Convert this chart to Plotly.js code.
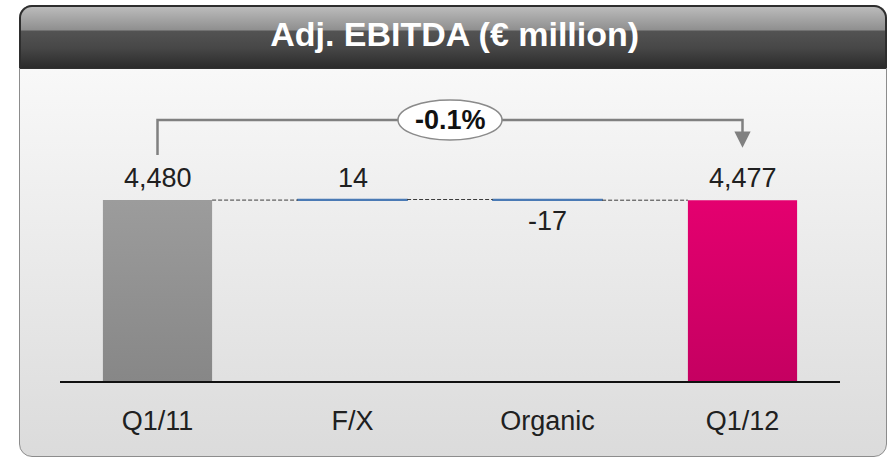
<!DOCTYPE html>
<html>
<head>
<meta charset="utf-8">
<script src="https://cdn.plot.ly/plotly-3.0.1.min.js"></script>
<style>
  html, body { margin:0; padding:0; width:895px; height:458px; overflow:hidden; background:#ffffff; }
  #panel { position:absolute; left:19px; top:5px; width:868px; height:452px; border-radius:13px;
           background:linear-gradient(to bottom, #fdfdfd 0px, #f4f4f4 120px, #e8e8e8 280px, #dbdbdb 452px);
           border:1.5px solid #8c8c8c; box-sizing:border-box; overflow:hidden; }
  #header { position:absolute; left:0; top:0; right:0; height:62px;
            background:linear-gradient(to bottom, #bdbdbd 0px, #a6a6a6 12px, #8f8f8f 24px, #535353 25px, #474747 42px, #2b2b2b 62px);
            border-bottom:1px solid #303030; }
  #panelborder { position:absolute; left:19px; top:5px; width:868px; height:63px; border-radius:13px 13px 0 0;
            border:2px solid #2e2e2e; border-bottom:none; box-sizing:border-box; pointer-events:none; }
  #chart { position:absolute; left:0; top:0; width:895px; height:458px; }
</style>
</head>
<body>
<svg width="0" height="0" style="position:absolute">
  <defs>
    <linearGradient id="gGray" x1="0" y1="0" x2="0" y2="1">
      <stop offset="0" stop-color="#9c9c9c"/>
      <stop offset="1" stop-color="#878787"/>
    </linearGradient>
    <linearGradient id="gMag" x1="0" y1="0" x2="0" y2="1">
      <stop offset="0" stop-color="#e4006f"/>
      <stop offset="1" stop-color="#c50061"/>
    </linearGradient>
  </defs>
</svg>
<div id="panel"><div id="header"></div></div>
<div id="panelborder"></div>
<div id="chart"></div>
<script>
// ---- data ----
const categories = ["Q1/11", "F/X", "Organic", "Q1/12"];
const startValue = 4480;              // Q1/11
const deltas = [14, -17];             // F/X, Organic
const endValue = 4477;                // Q1/12
const changeLabel = "-0.1%";
const valueLabels = ["4,480", "14", "-17", "4,477"];

// ---- derived ----
const bases = [];
let running = startValue;
deltas.forEach(d => { bases.push(running); running += d; });
const tops = [startValue, bases[0] + Math.max(deltas[0],0), bases[1] + Math.max(deltas[1],0), endValue];
const maxVal = Math.max(startValue, endValue);
const yMax = maxVal * 1.73;

const FONT = "'Liberation Sans', Arial, sans-serif";
const BW = 0.56;

const traces = [
  { type:'bar', x:[categories[0]], y:[startValue], width:BW,
    marker:{color:'#929292', line:{width:0}}, hoverinfo:'none', name:'start' },
  { type:'bar', x:[categories[1], categories[2]], y:deltas, base:bases, width:BW,
    marker:{color:'#4a7ab5', line:{color:'#4a7ab5', width:1.6}}, hoverinfo:'none', name:'delta' },
  { type:'bar', x:[categories[3]], y:[endValue], width:BW,
    marker:{color:'#d60068', line:{width:0}}, hoverinfo:'none', name:'end' }
];

// connectors between bars
const levels = [startValue, bases[1], running];
const shapes = [];
for (let i = 0; i < 3; i++) {
  shapes.push({ type:'line', xref:'x', yref:'y', x0:i + BW/2, x1:i + 1 - BW/2, y0:levels[i], y1:levels[i],
                line:{color:'#3c3c3c', width:1, dash:'4px,2px'} });
}
// bracket
const brTop = 0.834, brStart = 0.722, brTip = 0.745;
shapes.push({ type:'path', xref:'x', yref:'paper',
  path:`M 0 ${brStart} L 0 ${brTop} L ${categories.length-1} ${brTop} L ${categories.length-1} ${brTip+0.03}`,
  line:{color:'#808080', width:2.5} });
// ellipse around the change label
shapes.push({ type:'circle', xref:'x', yref:'paper', xsizemode:'pixel', ysizemode:'pixel',
  xanchor:(categories.length-1)/2, yanchor:brTop, x0:-52, x1:52, y0:-20, y1:20,
  fillcolor:'#ffffff', line:{color:'#8a8a8a', width:1.5} });

const annotations = [];
// value labels
for (let i = 0; i < 4; i++) {
  const below = (i === 2);
  annotations.push({ xref:'x', yref:'y', x:categories[i], y: below ? bases[1] + deltas[1] : tops[i],
    text:valueLabels[i], showarrow:false, yanchor: below ? 'top' : 'bottom', yshift: below ? -4 : 5,
    font:{family:FONT, size:27, color:'#202020'} });
}
// change label
annotations.push({ xref:'x', yref:'paper', x:(categories.length-1)/2, y:brTop, text:'<b>'+changeLabel+'</b>',
  showarrow:false, yanchor:'middle', xanchor:'center',
  font:{family:FONT, size:27, color:'#111111'} });
// arrow head
annotations.push({ xref:'x', yref:'paper', x:categories.length-1, y:brTip, axref:'x', ayref:'paper',
  ax:categories.length-1, ay:brTip+0.04, text:'', showarrow:true, arrowhead:2, arrowsize:1.3,
  arrowwidth:2.5, arrowcolor:'#808080' });

const layout = {
  width:895, height:458,
  margin:{l:60, r:55, t:68, b:77},
  paper_bgcolor:'rgba(0,0,0,0)', plot_bgcolor:'rgba(0,0,0,0)',
  showlegend:false, barmode:'overlay',
  title:{ text:'<b>Adj. EBITDA (€ million)</b>', x:0.508, xanchor:'center', y:0.925, yref:'container', yanchor:'middle',
          font:{family:FONT, size:34, color:'#ffffff'} },
  xaxis:{ type:'category', categoryorder:'array', categoryarray:categories, range:[-0.5, 3.5],
          showline:true, linecolor:'#111111', linewidth:2, showgrid:false, zeroline:false,
          ticks:'outside', ticklen:15, tickcolor:'rgba(0,0,0,0)',
          tickfont:{family:FONT, size:27, color:'#202020'}, fixedrange:true },
  yaxis:{ range:[0, yMax], visible:false, showgrid:false, zeroline:false, fixedrange:true },
  shapes:shapes, annotations:annotations
};

Plotly.newPlot('chart', traces, layout, {staticPlot:true, displayModeBar:false}).then(() => {
  const traceGroups = document.querySelectorAll('#chart .trace.bars');
  const fills = ['url(#gGray)', null, 'url(#gMag)'];
  traceGroups.forEach((g, i) => {
    if (fills[i]) g.querySelectorAll('path').forEach(p => { p.style.fill = fills[i]; });
  });
});
</script>
</body>
</html>
